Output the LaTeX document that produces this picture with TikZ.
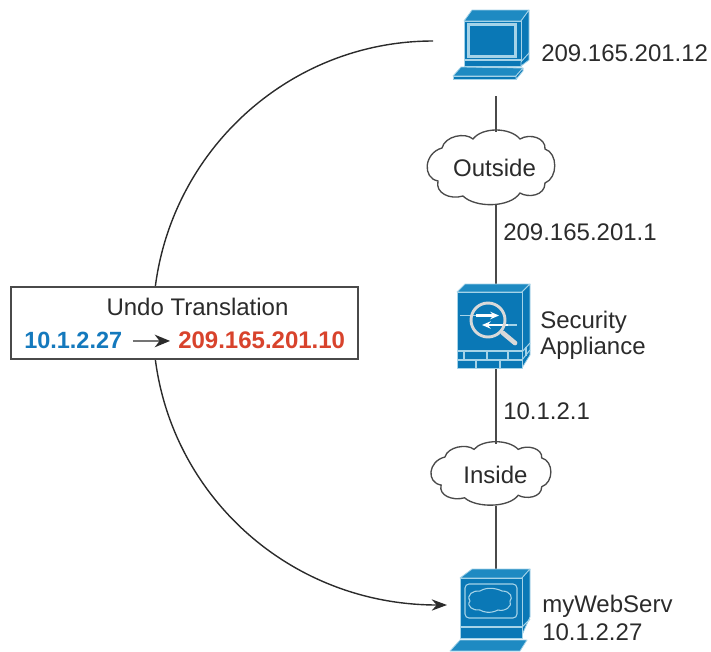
\documentclass[tikz,border=0pt]{standalone}
\usepackage{fontspec}
\setmainfont{Liberation Sans}
\usetikzlibrary{arrows.meta}
\definecolor{icoF}{HTML}{0A78B6}
\definecolor{icoT}{HTML}{1E8AC2}
\definecolor{icoL}{HTML}{A5D3E8}
\definecolor{txtK}{HTML}{2B2B2B}
\definecolor{wireK}{HTML}{4A4A4A}
\definecolor{ipBlue}{HTML}{1479BD}
\definecolor{ipRed}{HTML}{D8432C}
\tikzset{
  x=0.75pt,y=-0.75pt,
  lbl/.style={font=\fontsize{18}{18}\selectfont,text=txtK,inner sep=0pt,anchor=west},
  ipt/.style={font=\bfseries\fontsize{18}{18}\selectfont,inner sep=0pt,anchor=west},
  wire/.style={draw=wireK,line width=1.5pt},
  face/.style={fill=icoF,draw=icoL,line width=0.6pt,line join=round},
  topf/.style={fill=icoT,draw=icoL,line width=0.6pt,line join=round},
  gl/.style={draw=icoL,line width=0.8pt},
  anchorbox/.style={inner sep=0pt,outer sep=0pt,draw=none,fill=none},
  cloudline/.style={draw=wireK,line width=1pt,fill=white},
  cloudpic/.pic={
    \path[cloudline] (-52,13) .. controls (-68,10) and (-66,-15) .. (-48,-20)
      .. controls (-45,-32) and (-25,-36) .. (-17,-29)
      .. controls (-8,-41) and (20,-41) .. (30,-29)
      .. controls (40,-35) and (56,-30) .. (55,-19)
      .. controls (68,-15) and (68,10) .. (55,15)
      .. controls (55,28) and (38,30) .. (30,25)
      .. controls (20,40) and (-15,40) .. (-27,28)
      .. controls (-40,32) and (-55,25) .. (-52,13) -- cycle;
  }
}
\begin{document}
\begin{tikzpicture}
\useasboundingbox (0,0) rectangle (711,651);
% named anchors
\coordinate (hostS) at (495.5,96);
\coordinate (fwN) at (495.5,284);
\coordinate (fwS) at (495.5,368);
\coordinate (srvN) at (495.5,569);
\coordinate (arcStart) at (433,41);
\coordinate (arcEnd) at (447,605);
% clouds
\pic at (490,168) {cloudpic};
\pic[xscale=0.94,yscale=0.85] at (490,474) {cloudpic};
\node[anchorbox,minimum width=90pt,minimum height=54.75pt,font=\fontsize{18}{18}\selectfont,text=txtK] (outside) at (494.5,168) {Outside};
\node[anchorbox,minimum width=70pt,minimum height=46.5pt,font=\fontsize{18}{18}\selectfont,text=txtK] (inside) at (495.5,475) {Inside};
% wires
\draw[wire] (hostS) -- (hostS |- outside.north);
\draw[wire] (hostS |- outside.south) -- (fwN);
\draw[wire] (fwS) -- (inside.north);
\draw[wire] (inside.south) -- (srvN);
% big arc
\draw[draw=txtK,line width=1.05pt,-{Stealth[length=11.5pt,width=8.5pt]}]
  (arcStart) .. controls (279,41) and (153,167) .. (153,323)
  .. controls (153,479) and (279,605) .. (arcEnd);
% translation box
\node[draw=wireK,line width=1.4pt,fill=white,minimum width=260.25pt,minimum height=54pt,inner sep=0pt] (undo) at (184.5,323) {};
\node[inner sep=0pt,font=\fontsize{18}{18}\selectfont,text=txtK] (undot) at (197.5,307) {Undo Translation};
\node[ipt,font=\bfseries\fontsize{17.6}{17.6}\selectfont,text=ipBlue] (ipa) at (24,340) {10.1.2.27};
\node[ipt,text=ipRed] (ipb) at (178,340) {209.165.201.10};
\draw[draw=txtK,line width=1.05pt,-{Stealth[length=11.5pt,width=9.5pt]}] (133,341) -- ([xshift=-6pt,yshift=-0.7pt]ipb.west);
% host icon (top)
\path[topf] (464,21) -- (472,10) -- (529,10) -- (521,21) -- cycle;
\path[face] (521,21) -- (529,10) -- (529,53) -- (521,62) -- cycle;
\path[face] (464,21) rectangle (521,66);
\draw[gl] (468,23.5) rectangle (516,57);
\draw[gl] (469.5,25) rectangle (514.5,55.5);
\draw[gl] (464,60) -- (521,60);
\path[face] (521,62) -- (529,53) -- (529,60) -- (521,66) -- cycle;
\path[topf] (453,76) -- (461,67) -- (523,68) -- (516,76) -- cycle;
\path[face] (453,76) rectangle (516,79.5);
\path[face] (516,76) -- (523,68) -- (523,71) -- (516,79.5) -- cycle;
% appliance icon
\path[topf] (457,292) -- (465,284) -- (530,284) -- (522,292) -- cycle;
\path[face] (522,292) -- (530,284) -- (530,355) -- (522,368) -- cycle;
\path[face] (457,292) rectangle (522,368);
\draw[gl] (457,351) -- (522,351);
\draw[gl] (457,360) -- (522,360);
\foreach \xa in {464,487,508} \draw[gl] (\xa,351) -- (\xa,360);
\foreach \xa in {476,500} \draw[gl] (\xa,360) -- (\xa,368);
\draw[gl] (522,352) -- (530,343);
\draw[gl] (522,360) -- (530,350);
\draw[gl] (526,347) -- (526,356);
\draw[draw=white,line width=1.6pt,-{Stealth[length=6.5pt,width=5.5pt]}] (476,315.5) -- (499,315.5);
\draw[draw=white,line width=1.6pt,-{Stealth[length=6.5pt,width=5.5pt]}] (510,325) -- (482,325);
\draw[draw=icoL,line width=0.8pt] (460,315.5) -- (476,315.5);
\draw[draw=icoL,line width=0.8pt] (508,325) -- (517,325);
\draw[draw=white!85!black,line width=2.2pt,fill=none] (488,320) circle[radius=17];
\draw[draw=white!85!black,line width=3.5pt,line cap=round] (503,333) -- (515,343);
% server icon
\path[topf] (460,578) -- (472,569) -- (530,569) -- (522,578) -- cycle;
\path[face] (522,578) -- (530,569) -- (530,617) -- (522,635) -- cycle;
\path[face] (460,578) rectangle (522,638);
\draw[gl,rounded corners=3pt] (465,584) rectangle (517,618);
\draw[gl] (460,627) -- (522,627);
\draw[gl] (522,627) -- (530,619);
\draw[gl] (470,601) .. controls (466,595) and (473,590) .. (480,591)
  .. controls (488,586) and (498,589) .. (502,591)
  .. controls (511,591) and (513,598) .. (510,601)
  .. controls (513,606) and (505,612) .. (498,610)
  .. controls (490,614) and (483,612) .. (480,610)
  .. controls (473,611) and (466,606) .. (470,601) -- cycle;
\path[topf] (450,651) -- (460,640) -- (527,640) -- (520,651) -- cycle;
% labels
\node[lbl] (l1) at (541,53) {209.165.201.12};
\node[lbl] (l2) at (503,232) {209.165.201.1};
\node[lbl] (l3) at (540,322) {Security};
\node[lbl] (l4) at (540,348) {Appliance};
\node[lbl] (l5) at (503,411) {10.1.2.1};
\node[lbl] (l6) at (542,606) {myWebServ};
\node[lbl] (l7) at (542,632) {10.1.2.27};
\end{tikzpicture}
\end{document}
